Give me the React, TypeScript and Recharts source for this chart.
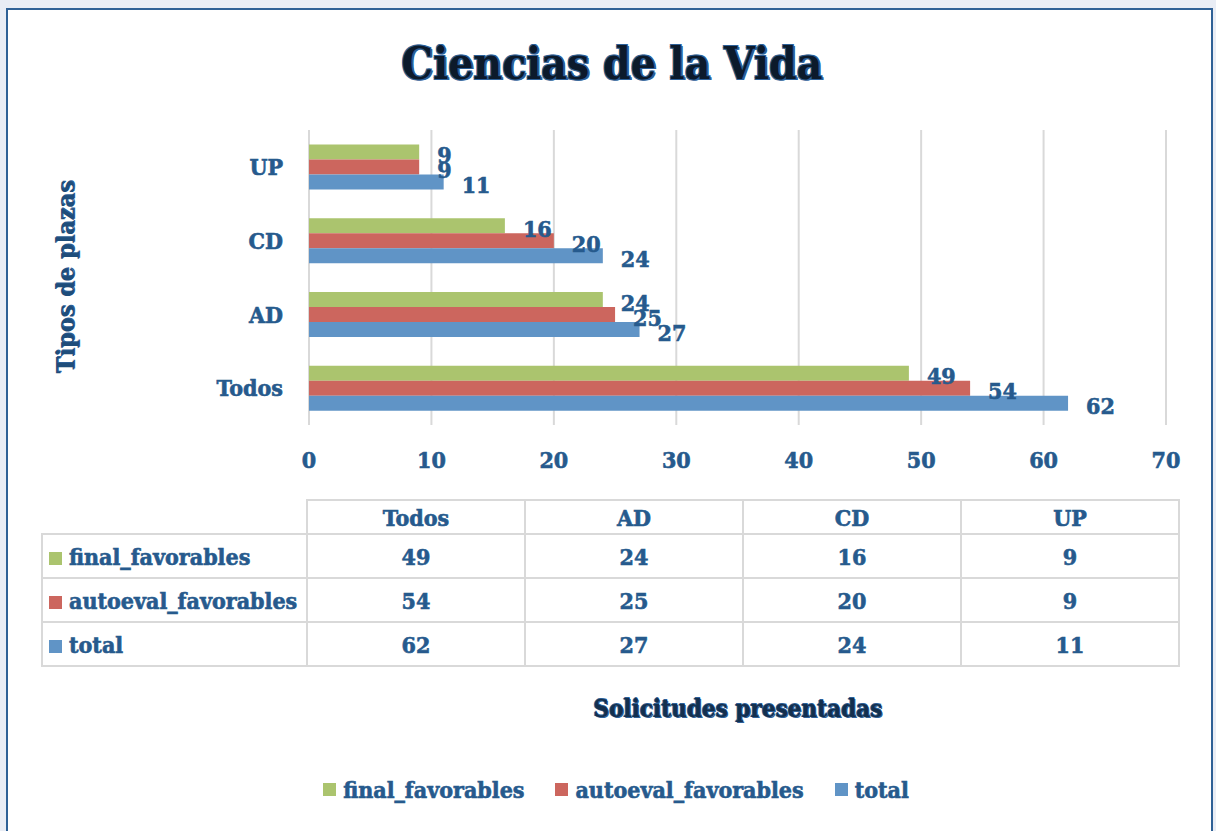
import React from 'react';
import { BarChart, Bar, XAxis, YAxis, CartesianGrid, LabelList, Legend } from 'recharts';

const categories = ['Todos', 'AD', 'CD', 'UP'];
const finalFavorables = [49, 24, 16, 9];
const autoevalFavorables = [54, 25, 20, 9];
const totalValues = [62, 27, 24, 11];
const xTicks = [0, 10, 20, 30, 40, 50, 60, 70];

const series = [
  { key: 'final_favorables', values: finalFavorables, color: '#abc46e' },
  { key: 'autoeval_favorables', values: autoevalFavorables, color: '#cc665e' },
  { key: 'total', values: totalValues, color: '#6094c6' },
];

const data = categories.map((category, i) => {
  const row: { [k: string]: any } = { category };
  series.forEach((s) => (row[s.key] = s.values[i]));
  return row;
});

const FONT = '"DejaVu Serif Condensed", "DejaVu Serif", serif';
const TEXT = '#265a8d';
const GRID = '#d9d9d9';

const heavy = { WebkitTextStroke: `0.6px ${TEXT}` };

const outlined = {
  color: '#0c1a2b',
  textShadow:
    '-1px -1px 0 #2d6097, 1px -1px 0 #2d6097, -1px 1px 0 #2d6097, 1px 1px 0 #2d6097, 2px 1px 0 #2d6097',
};

// legend drawn from the series list so the order stays as declared
const LegendContent = () => (
  <div style={{ display: 'flex', justifyContent: 'center', gap: 31, paddingLeft: 16 }}>
    {series.map((s) => (
      <div key={s.key} style={{ display: 'flex', alignItems: 'center' }}>
        <span style={{ width: 13, height: 13, background: s.color, display: 'inline-block', marginRight: 7 }} />
        <span style={{ fontFamily: FONT, fontWeight: 'bold', fontSize: 23, color: TEXT, ...heavy }}>{s.key}</span>
      </div>
    ))}
  </div>
);

const cellBorder = `2px solid ${GRID}`;

const DataTable = () => (
  <table
    style={{
      position: 'absolute',
      left: 41,
      top: 499,
      borderCollapse: 'collapse',
      fontFamily: FONT,
      fontWeight: 'bold',
      fontSize: 23,
      color: TEXT,
      ...heavy,
    }}
  >
    <tbody>
      <tr style={{ height: 34 }}>
        <td style={{ width: 264, padding: 0 }} />
        {categories.map((c) => (
          <td key={c} style={{ width: 216, border: cellBorder, textAlign: 'center', padding: 0 }}>
            {c}
          </td>
        ))}
      </tr>
      {series.map((s) => (
        <tr key={s.key} style={{ height: 44 }}>
          <td style={{ border: cellBorder, padding: '0 0 0 6px', whiteSpace: 'nowrap' }}>
            <span
              style={{ width: 13, height: 13, background: s.color, display: 'inline-block', marginRight: 7 }}
            />
            {s.key}
          </td>
          {s.values.map((v, i) => (
            <td key={i} style={{ border: cellBorder, textAlign: 'center', padding: 0 }}>
              {v}
            </td>
          ))}
        </tr>
      ))}
    </tbody>
  </table>
);

const tickStyle = {
  fill: TEXT,
  fontFamily: FONT,
  fontWeight: 'bold',
  fontSize: 23,
  stroke: TEXT,
  strokeWidth: 0.6,
};

export default function App() {
  return (
    <div
      style={{
        position: 'fixed',
        left: 0,
        top: 0,
        width: 1216,
        height: 831,
        background: '#e9edf5',
        overflow: 'hidden',
      }}
    >
      <div
        style={{
          position: 'absolute',
          left: 6,
          top: 8,
          width: 1203,
          height: 860,
          background: '#fff',
          border: '2px solid #2f6196',
        }}
      />
      <div style={{ position: 'absolute', left: 0, top: 0 }}>
        <BarChart
          width={1216}
          height={831}
          data={data}
          layout="vertical"
          barCategoryGap="19.5%"
          barGap={0}
          margin={{ top: 130, right: 50, bottom: 329, left: 0 }}
        >
          <CartesianGrid horizontal={false} stroke={GRID} strokeWidth={2} />
          <XAxis
            type="number"
            domain={[0, 70]}
            ticks={xTicks}
            height={50}
            axisLine={false}
            tickLine={false}
            tickSize={0}
            tickMargin={27}
            tick={tickStyle}
          />
          <YAxis
            type="category"
            dataKey="category"
            reversed
            width={309}
            axisLine={false}
            tickLine={false}
            tickSize={0}
            tickMargin={26}
            tick={tickStyle}
          />
          <Legend
            verticalAlign="bottom"
            content={<LegendContent />}
            wrapperStyle={{ position: 'absolute', top: 776, left: 0, width: 1216 }}
          />
          {series.map((s) => (
            <Bar key={s.key} dataKey={s.key} name={s.key} fill={s.color} isAnimationActive={false}>
              <LabelList
                dataKey={s.key}
                position="right"
                offset={18}
                dy={3}
                fill={TEXT}
                stroke={TEXT}
                strokeWidth={0.6}
                style={{ fontFamily: FONT, fontWeight: 'bold', fontSize: 23 }}
              />
            </Bar>
          ))}
        </BarChart>
      </div>
      <div
        style={{
          position: 'absolute',
          left: 4,
          width: 1216,
          top: 38,
          textAlign: 'center',
          fontFamily: FONT,
          fontWeight: 'bold',
          fontSize: 44,
          ...outlined,
        }}
      >
        Ciencias de la Vida
      </div>
      <div
        style={{
          position: 'absolute',
          left: 65,
          top: 277,
          transform: 'translate(-50%, -50%) rotate(-90deg)',
          whiteSpace: 'nowrap',
          fontFamily: FONT,
          fontWeight: 'bold',
          fontSize: 25,
          color: '#1f4d7a',
          textShadow: '1px 1px 0 #2d6097',
        }}
      >
        Tipos de plazas
      </div>
      <div
        style={{
          position: 'absolute',
          left: 738,
          top: 708,
          transform: 'translate(-50%, -50%)',
          whiteSpace: 'nowrap',
          fontFamily: FONT,
          fontWeight: 'bold',
          fontSize: 24,
          color: '#142f4d',
          textShadow: '-1px 0 0 #2d6097, 1px 1px 0 #2d6097, 0 -1px 0 #2d6097',
        }}
      >
        Solicitudes presentadas
      </div>
      <DataTable />
    </div>
  );
}
